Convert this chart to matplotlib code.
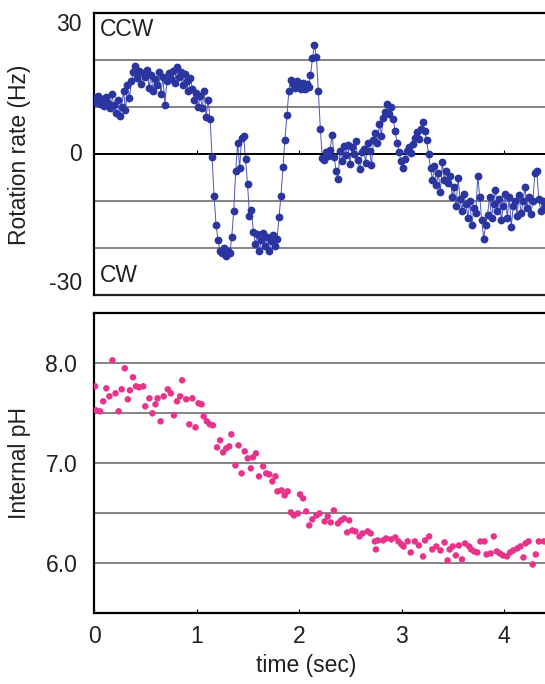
import numpy as np
import matplotlib
matplotlib.use("Agg")
import matplotlib.pyplot as plt
from matplotlib.transforms import blended_transform_factory

plt.rcParams['font.family'] = ['Liberation Sans', 'DejaVu Sans']

# rotation rate (Hz), sampled every rate_dt seconds from t = 0
rate_dt = 0.0192
rate = [
    12.0, 11.2, 12.5, 10.8, 11.8, 10.2, 12.2, 11.0, 9.8, 12.8,
    10.5, 8.8, 11.5, 8.2, 10.0, 13.5, 9.5, 14.8, 12.0, 15.5,
    17.5, 18.8, 16.2, 17.8, 15.0, 17.2, 16.5, 18.0, 14.2, 16.8,
    13.5, 16.0, 14.8, 17.5, 12.8, 16.5, 10.5, 15.5, 17.2, 16.0,
    17.8, 15.2, 18.5, 16.5, 17.5, 14.8, 17.0, 15.5, 13.5, 16.2,
    14.0, 11.5, 13.0, 10.0, 12.5, 9.8, 13.5, 8.0, 11.5, 7.5,
    -0.5, -8.8, -15.0, -18.2, -20.5, -21.0, -19.8, -21.5, -20.5, -21.0,
    -17.5, -12.0, -3.5, 2.5, -3.0, 3.5, 4.0, -1.0, -6.2, -13.0,
    -11.8, -16.5, -19.0, -17.0, -20.5, -18.2, -16.8, -19.5, -17.5, -20.5,
    -18.5, -17.2, -19.5, -18.0, -13.4, -8.8, -2.7, 3.1, 8.4, 13.4,
    15.8, 15.0, 14.2, 15.5, 14.5, 13.8, 15.2, 14.0, 15.0, 14.3,
    16.8, 20.5, 23.2, 20.8, 13.5, 5.5, -0.8, -1.2, 0.5, -0.3,
    1.0, 4.2, -0.5, -3.5, -5.2, 0.8, -1.5, 1.8, -0.2, 2.0,
    -2.0, 1.5, 0.0, 2.8, -1.2, -3.2, 0.5, 1.2, -1.8, 2.5,
    0.8, -2.2, 3.0, 4.5, 2.5, 6.5, 4.0, 7.8, 9.0, 10.8,
    8.5, 10.0, 7.5, 5.0, 2.5, 0.5, -1.5, -2.8, -1.0, 0.8,
    1.5, 0.2, 2.3, 3.5, 4.8, 3.2, 5.5, 6.8, 5.0, 3.0,
    0.0, -3.0, -5.5, -2.5, -6.5, -4.0, -8.0, -1.6, -5.5, -3.5,
    -6.0, -4.5, -9.0, -7.0, -11.0, -5.0, -9.5, -12.0, -8.5, -10.5,
    -13.5, -10.0, -15.0, -11.5, -12.5, -4.5, -9.0, -14.0, -18.0, -15.0,
    -12.8, -9.0, -13.5, -10.5, -7.5, -12.0, -9.5, -14.0, -11.0, -8.5,
    -13.5, -9.0, -15.5, -11.0, -10.0, -13.0, -8.7, -12.5, -10.0, -7.0,
    -11.5, -9.0, -12.6, -10.0, -4.0, -3.5, -9.5, -12.0, -10.0, -11.0,
]
rate_time = np.arange(len(rate)) * rate_dt

# internal pH
ph_time = [
    0.01, 0.02, 0.06, 0.09, 0.12, 0.15, 0.18, 0.21, 0.24, 0.27,
    0.30, 0.33, 0.35, 0.38, 0.41, 0.44, 0.48, 0.50, 0.54, 0.57,
    0.60, 0.62, 0.65, 0.68, 0.72, 0.75, 0.78, 0.81, 0.84, 0.86,
    0.90, 0.93, 0.96, 0.99, 1.02, 1.05, 1.07, 1.10, 1.13, 1.16,
    1.20, 1.23, 1.26, 1.29, 1.32, 1.34, 1.38, 1.41, 1.44, 1.47,
    1.50, 1.53, 1.55, 1.58, 1.61, 1.65, 1.68, 1.71, 1.74, 1.77,
    1.79, 1.83, 1.86, 1.89, 1.92, 1.95, 1.99, 2.01, 2.04, 2.07,
    2.10, 2.13,
    2.17, 2.20, 2.25, 2.28, 2.31, 2.34, 2.38, 2.41, 2.44, 2.47,
    2.49, 2.52, 2.55, 2.59, 2.62, 2.67, 2.70, 2.74, 2.75, 2.77,
    2.82, 2.85, 2.90, 2.94, 2.97, 3.00, 3.02, 3.06, 3.09, 3.13,
    3.17, 3.21, 3.23, 3.27, 3.30, 3.34, 3.38, 3.42, 3.45, 3.47,
    3.50, 3.53, 3.56, 3.59, 3.62, 3.66, 3.68, 3.71, 3.74, 3.77,
    3.81, 3.83, 3.87, 3.90, 3.93, 3.96, 3.99, 4.03, 4.06, 4.09,
    4.13, 4.16, 4.19, 4.21, 4.24, 4.28, 4.31, 4.34, 4.39,
]
ph = [
    7.77, 7.53, 7.52, 7.62, 7.75, 7.67, 8.03, 7.70, 7.52, 7.74,
    7.95, 7.64, 7.73, 7.86, 7.77, 7.76, 7.77, 7.57, 7.65, 7.50,
    7.59, 7.65, 7.42, 7.67, 7.74, 7.70, 7.48, 7.62, 7.67, 7.83,
    7.64, 7.39, 7.65, 7.36, 7.60, 7.59, 7.47, 7.42, 7.39, 7.38,
    7.16, 7.23, 7.11, 7.15, 7.17, 7.29, 6.98, 7.18, 6.90, 7.12,
    7.05, 6.95, 7.06, 7.10, 6.87, 6.97, 6.90, 6.89, 6.82, 6.87,
    6.72, 6.73, 6.68, 6.72, 6.51, 6.48, 6.50, 6.69, 6.65, 6.52,
    6.38, 6.44,
    6.48, 6.50, 6.42, 6.47, 6.41, 6.53, 6.40, 6.43, 6.45, 6.31,
    6.43, 6.33, 6.32, 6.27, 6.30, 6.32, 6.30, 6.22, 6.14, 6.23,
    6.23, 6.25, 6.24, 6.26, 6.22, 6.19, 6.17, 6.22, 6.11, 6.22,
    6.18, 6.07, 6.23, 6.27, 6.14, 6.17, 6.13, 6.21, 6.03, 6.14,
    6.17, 6.08, 6.18, 6.04, 6.20, 6.17, 6.14, 6.12, 6.11, 6.22,
    6.22, 6.09, 6.10, 6.27, 6.12, 6.10, 6.08, 6.07, 6.11, 6.13,
    6.15, 6.17, 6.06, 6.20, 6.22, 5.99, 6.09, 6.22, 6.22,
]

rate_ticks = [30, 0, -30]
rate_grid = [20, 10, -10, -20]
ph_ticks = [8.0, 7.0, 6.0]
ph_grid = [8.0, 7.5, 7.0, 6.5, 6.0]
time_ticks = [0, 1, 2, 3, 4]

text_color = "#231f20"
grid_color = "#6e6e6e"
fs = 16.5

fig = plt.figure(figsize=(5.45, 6.84), dpi=100)
ax1 = fig.add_axes([0.1725, 0.568, 0.8275, 0.4126])
ax2 = fig.add_axes([0.1725, 0.1031, 0.8275, 0.4389])

# top panel: rotation rate
for y in rate_grid:
    ax1.axhline(y, color=grid_color, lw=1.2, zorder=1)
ax1.axhline(-30, color="#222222", lw=1.6, zorder=1, clip_on=False)
ax1.plot(rate_time, rate, color="#4b56b8", lw=0.7, zorder=2)
ax1.plot(rate_time, rate, "o", color="#2b35a0", ms=4.6, mec="#2b35a0", zorder=3)
ax1.set_xlim(0, 4.40)
ax1.set_ylim(-30, 30)
ax1.spines['right'].set_visible(False)
ax1.spines['bottom'].set_position(('data', 0))
ax1.spines['bottom'].set_linewidth(1.4)
ax1.spines['left'].set_linewidth(1.6)
ax1.spines['top'].set_linewidth(1.6)
ax1.set_xticks(time_ticks[1:])
ax1.tick_params(axis='x', direction='in', length=3, labelbottom=False)
ax1.set_yticks([])

tr1 = blended_transform_factory(ax1.transAxes, ax1.transData)
ax1.text(-0.027, 30, "30", transform=tr1, ha='right', va='top', fontsize=fs, color=text_color)
ax1.text(-0.027, 0, "0", transform=tr1, ha='right', va='center', fontsize=fs, color=text_color)
ax1.text(-0.027, -30, "-30", transform=tr1, ha='right', va='bottom', fontsize=fs, color=text_color)
ax1.text(0.013, 26.5, "CCW", transform=tr1, ha='left', va='center', fontsize=fs, color=text_color)
ax1.text(0.013, -25.8, "CW", transform=tr1, ha='left', va='center', fontsize=fs, color=text_color)
ax1.set_ylabel("Rotation rate (Hz)", fontsize=fs, color=text_color)
ax1.yaxis.set_label_coords(-0.14, 0.5)

# bottom panel: internal pH
for y in ph_grid:
    ax2.axhline(y, color=grid_color, lw=1.2, zorder=1)
ax2.scatter(ph_time, ph, s=22, color="#e8338a", edgecolors="none", zorder=3)
ax2.set_xlim(0, 4.40)
ax2.set_ylim(5.5, 8.5)
ax2.spines['right'].set_visible(False)
for s in ['left', 'top', 'bottom']:
    ax2.spines[s].set_linewidth(1.6)
ax2.set_xticks(time_ticks)
ax2.set_xticklabels([str(t) for t in time_ticks], fontsize=fs, color=text_color)
ax2.tick_params(axis='x', direction='in', length=3, pad=8)
ax2.set_yticks(ph_ticks)
ax2.set_yticklabels(["%.1f" % v for v in ph_ticks], fontsize=fs, color=text_color)
ax2.tick_params(axis='y', length=0, pad=12)
ax2.set_ylabel("Internal pH", fontsize=fs, color=text_color)
ax2.yaxis.set_label_coords(-0.14, 0.5)
ax2.set_xlabel("time (sec)", fontsize=fs, color=text_color)
ax2.xaxis.set_label_coords(0.47, -0.135)

plt.savefig("out.png", dpi=100)
